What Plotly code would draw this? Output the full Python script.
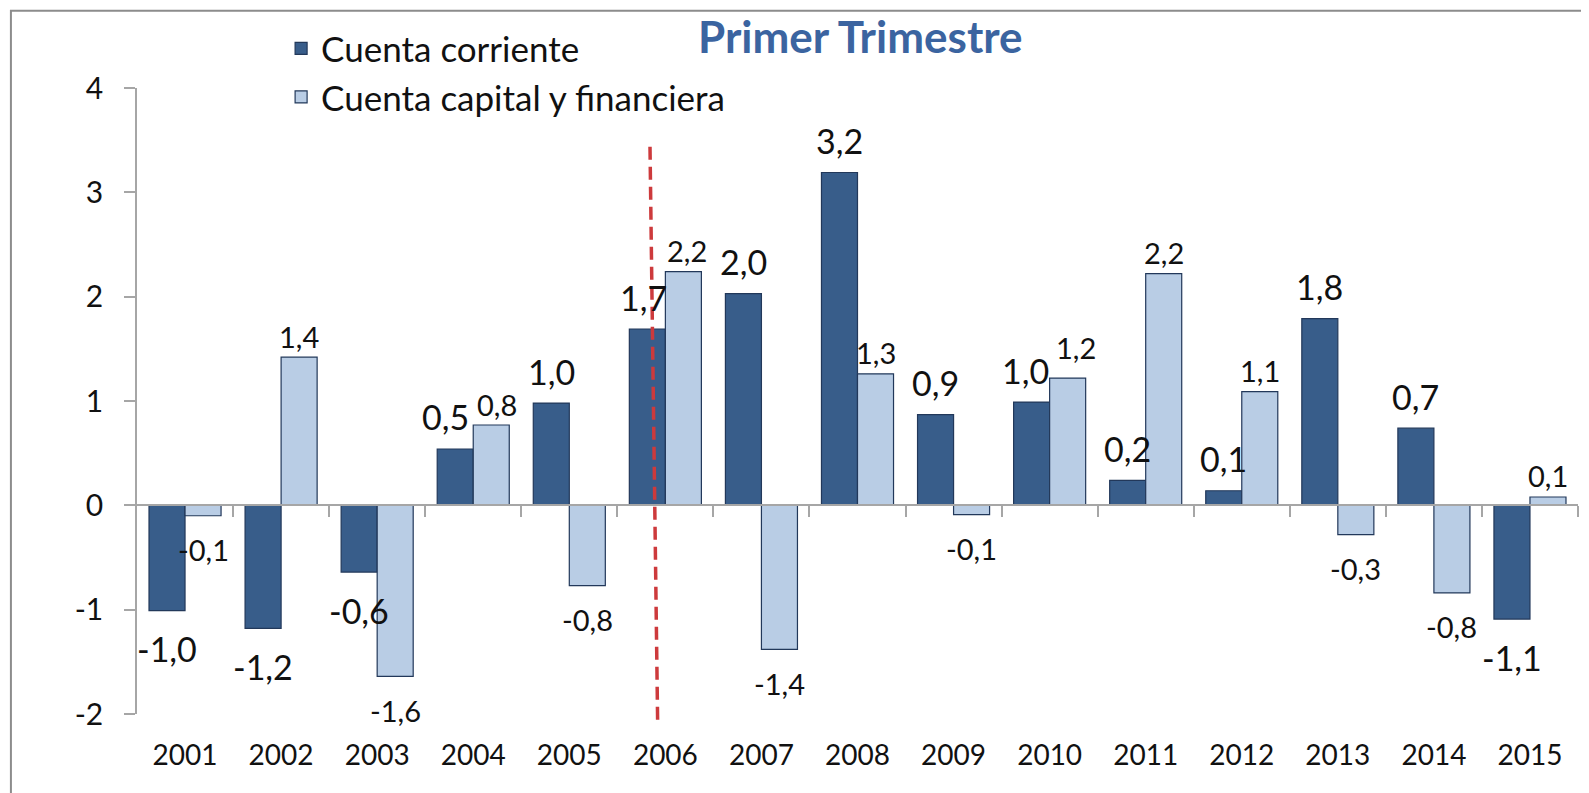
import plotly.graph_objects as go

years = ["2001", "2002", "2003", "2004", "2005", "2006", "2007", "2008",
         "2009", "2010", "2011", "2012", "2013", "2014", "2015"]
cuenta_corriente = [-1.01, -1.18, -0.64, 0.54, 0.98, 1.69, 2.03, 3.19,
                    0.87, 0.99, 0.24, 0.14, 1.79, 0.74, -1.09]
cuenta_capital = [-0.10, 1.42, -1.64, 0.77, -0.77, 2.24, -1.38, 1.26,
                  -0.09, 1.22, 2.22, 1.09, -0.28, -0.84, 0.08]
y_ticks = [-2, -1, 0, 1, 2, 3, 4]
y_tick_text = ["-2", "-1", "0", "1", "2", "3", "4"]
marker_year = "2006"
title_text = "Primer Trimestre"
series_names = ["Cuenta corriente", "Cuenta capital y financiera"]

# pixel nudges for crowded value labels: year -> ((dx, dy) current, (dx, dy) capital)
label_nudges = {
    "2004": ((-10, 0), (6, 0)),
    "2006": ((-4, 0), (4, 0)),
    "2010": ((-6, 0), (8, 10)),
}

FONT = "Lato, 'Open Sans', sans-serif"
C_DARK = "#385D8A"
C_LIGHT = "#B9CDE5"
EDGE = "#22385A"
AXIS = "#A6A6A6"
BARGAP = 0.25
half = (1 - BARGAP) / 4.0  # offset of each bar centre from category centre


def fmt(v):
    return f"{v:.1f}".replace(".", ",")


fig = go.Figure()
fig.add_trace(go.Bar(x=years, y=cuenta_corriente, name=series_names[0], legendgroup="a",
                     marker=dict(color=C_DARK, line=dict(color=EDGE, width=1.2))))
fig.add_trace(go.Bar(x=years, y=cuenta_capital, name=series_names[1], legendgroup="b",
                     marker=dict(color=C_LIGHT, line=dict(color=EDGE, width=1.2))))

ann = []
for i, (yr, a, b) in enumerate(zip(years, cuenta_corriente, cuenta_capital)):
    (dxa, dya), (dxb, dyb) = label_nudges.get(yr, ((0, 0), (0, 0)))
    ann.append(dict(xref="x2", yref="y", x=i - half, y=a, text=fmt(a), showarrow=False,
                    yanchor="middle", xshift=dxa, yshift=(32 if a >= 0 else -38) + dya,
                    font=dict(family=FONT, size=34, color="#111111")))
    ann.append(dict(xref="x2", yref="y", x=i + half, y=b, text=fmt(b), showarrow=False,
                    yanchor="middle", xshift=dxb, yshift=(21 if b >= 0 else -34) + dyb,
                    font=dict(family=FONT, size=29, color="#111111")))

ann.append(dict(xref="paper", yref="paper", x=0.502, y=1.0, yanchor="middle", yshift=52,
                text="<b>" + title_text + "</b>", showarrow=False,
                font=dict(family=FONT, size=44, color="#3B64A0")))

mi = years.index(marker_year)
shapes = [
    dict(type="line", xref="x2", yref="paper", x0=mi - 0.16, x1=mi - 0.08,
         y0=0.906, y1=-0.018, line=dict(color="#CD3A3C", width=3.5, dash="13px,7px"),
         layer="above"),
    dict(type="rect", xref="paper", yref="paper", x0=-0.0875, x1=1.05, y0=-0.3, y1=1.1234,
         line=dict(color="#8C8C8C", width=2), fillcolor="rgba(0,0,0,0)", layer="below"),
]

fig.update_layout(
    width=1589, height=793,
    margin=dict(l=129, r=19, t=80, b=87, autoexpand=False),
    paper_bgcolor="white", plot_bgcolor="white",
    barmode="group", bargap=BARGAP, bargroupgap=0,
    font=dict(family=FONT, color="#111111"),
    showlegend=True,
    legend=dict(x=0.100, y=1.110, xanchor="left", yanchor="top",
                font=dict(family=FONT, size=35, color="#111111"),
                bgcolor="rgba(0,0,0,0)", traceorder="normal", itemwidth=30,
                tracegroupgap=2),
    xaxis=dict(type="category", showline=False, ticks="", showgrid=False, zeroline=False,
               automargin=False,
               tickfont=dict(family=FONT, size=28, color="#111111"),
               ticklabelstandoff=22),
    xaxis2=dict(overlaying="x", anchor="free", position=(0 - y_ticks[0]) / (y_ticks[-1] - y_ticks[0]),
                range=[-0.5, len(years) - 0.5], showline=True, linecolor=AXIS, linewidth=1.5,
                ticks="outside", ticklen=11, tickcolor=AXIS, tickwidth=1.5, automargin=False,
                tickmode="array", tickvals=[i - 0.5 for i in range(1, len(years) + 1)],
                showticklabels=False, showgrid=False, zeroline=False, side="bottom"),
    yaxis=dict(range=[y_ticks[0], y_ticks[-1]], tickmode="array", tickvals=y_ticks,
               ticktext=y_tick_text, automargin=False,
               showline=True, linecolor=AXIS, linewidth=1.5, ticks="outside", ticklen=11,
               tickcolor=AXIS, tickwidth=1.5, showgrid=False, zeroline=False,
               tickfont=dict(family=FONT, size=30, color="#111111"), ticklabelstandoff=15),
    annotations=ann,
    shapes=shapes,
)

fig.write_html("out.html")
